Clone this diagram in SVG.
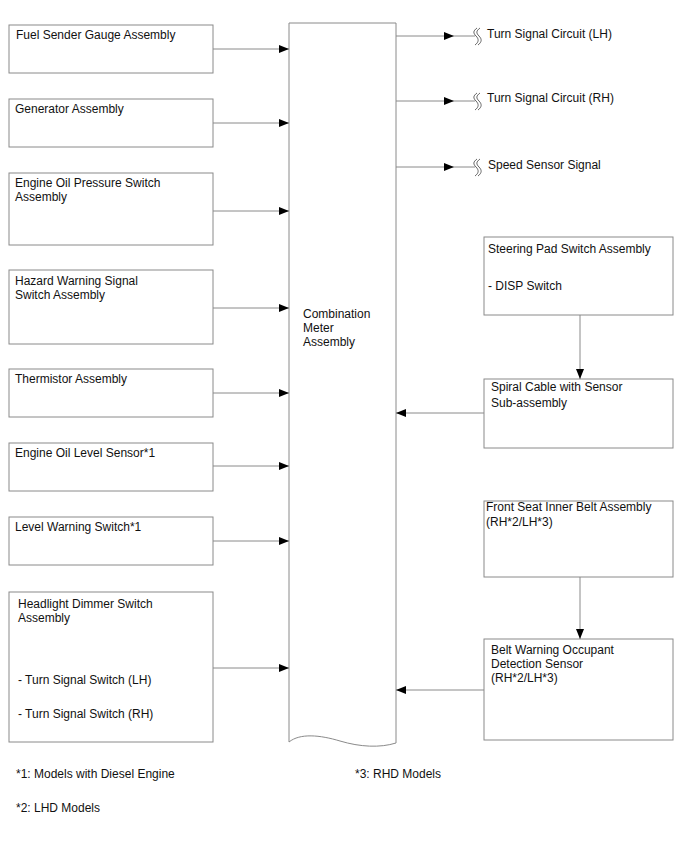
<svg xmlns="http://www.w3.org/2000/svg" width="688" height="852" viewBox="0 0 688 852">
<style>
.box{fill:#fff;stroke:#8a8a8a;stroke-width:1}
.t{font-family:"Liberation Sans",Arial,sans-serif;font-size:12px;fill:#111}
.ln{stroke:#8a8a8a;stroke-width:1;fill:none}
.brk{stroke:#555;stroke-width:0.9;fill:none}
</style>
<defs>
<marker id="arr" viewBox="0 0 10 8" refX="10" refY="4" markerWidth="10" markerHeight="8" markerUnits="userSpaceOnUse" orient="auto">
<path d="M0,0 L10,4 L0,8 Z" fill="#000"/>
</marker>
</defs>
<rect width="688" height="852" fill="#fff"/>

<g id="meter">
<path class="box" d="M289,23 H396 V743 C380,748 360,747 340,741 C320,735 300,733 289,742 Z"/>
<text class="t" x="303" y="318">Combination</text>
<text class="t" x="303" y="332">Meter</text>
<text class="t" x="303" y="346">Assembly</text>
</g>

<g id="fuel"><rect class="box" x="9" y="25" width="204" height="48"/><text class="t" x="16" y="39">Fuel Sender Gauge Assembly</text></g>
<g id="generator"><rect class="box" x="9" y="99" width="204" height="48"/><text class="t" x="15" y="113">Generator Assembly</text></g>
<g id="oilpressure"><rect class="box" x="9" y="173" width="204" height="72"/><text class="t" x="15" y="187">Engine Oil Pressure Switch</text><text class="t" x="15" y="201">Assembly</text></g>
<g id="hazard"><rect class="box" x="9" y="270" width="204" height="74"/><text class="t" x="15" y="285">Hazard Warning Signal</text><text class="t" x="15" y="299">Switch Assembly</text></g>
<g id="thermistor"><rect class="box" x="9" y="369" width="204" height="48"/><text class="t" x="15" y="383">Thermistor Assembly</text></g>
<g id="oillevel"><rect class="box" x="9" y="443" width="204" height="48"/><text class="t" x="15" y="457">Engine Oil Level Sensor*1</text></g>
<g id="levelwarning"><rect class="box" x="9" y="517" width="204" height="48"/><text class="t" x="15" y="531">Level Warning Switch*1</text></g>
<g id="headlight"><rect class="box" x="9" y="592" width="204" height="150"/><text class="t" x="18" y="608">Headlight Dimmer Switch</text><text class="t" x="18" y="622">Assembly</text><text class="t" x="18" y="684">- Turn Signal Switch (LH)</text><text class="t" x="18" y="718">- Turn Signal Switch (RH)</text></g>

<g id="steering"><rect class="box" x="484" y="237" width="189" height="78"/><text class="t" x="488" y="253">Steering Pad Switch Assembly</text><text class="t" x="488" y="290">- DISP Switch</text></g>
<g id="spiral"><rect class="box" x="484" y="379" width="189" height="69"/><text class="t" x="491" y="391">Spiral Cable with Sensor</text><text class="t" x="491" y="407">Sub-assembly</text></g>
<g id="frontseat"><rect class="box" x="484" y="501" width="189" height="76"/><text class="t" x="486" y="511">Front Seat Inner Belt Assembly</text><text class="t" x="486" y="526">(RH*2/LH*3)</text></g>
<g id="beltwarning"><rect class="box" x="484" y="639" width="189" height="101"/><text class="t" x="491" y="654">Belt Warning Occupant</text><text class="t" x="491" y="668">Detection Sensor</text><text class="t" x="491" y="682">(RH*2/LH*3)</text></g>

<g id="outputs">
<text class="t" x="487" y="38">Turn Signal Circuit (LH)</text>
<text class="t" x="487" y="102">Turn Signal Circuit (RH)</text>
<text class="t" x="488" y="169">Speed Sensor Signal</text>
<path class="brk" d="M477,28 C473,31 473,33 476,36 C479,39 479,42 475,45 M480,28 C476,31 476,33 479,36 C482,39 482,42 478,45"/>
<path class="brk" d="M477,93 C473,96 473,98 476,101 C479,104 479,107 475,110 M480,93 C476,96 476,98 479,101 C482,104 482,107 478,110"/>
<path class="brk" d="M477,159 C473,162 473,164 476,167 C479,170 479,173 475,176 M480,159 C476,162 476,164 479,167 C482,170 482,173 478,176"/>
</g>

<g id="connectors">
<line class="ln" x1="213" y1="49" x2="289" y2="49" marker-end="url(#arr)"/>
<line class="ln" x1="213" y1="123" x2="289" y2="123" marker-end="url(#arr)"/>
<line class="ln" x1="213" y1="211" x2="289" y2="211" marker-end="url(#arr)"/>
<line class="ln" x1="213" y1="308" x2="289" y2="308" marker-end="url(#arr)"/>
<line class="ln" x1="213" y1="393" x2="289" y2="393" marker-end="url(#arr)"/>
<line class="ln" x1="213" y1="466" x2="289" y2="466" marker-end="url(#arr)"/>
<line class="ln" x1="213" y1="541" x2="289" y2="541" marker-end="url(#arr)"/>
<line class="ln" x1="213" y1="668" x2="289" y2="668" marker-end="url(#arr)"/>
<line class="ln" x1="396" y1="36" x2="454" y2="36" marker-end="url(#arr)"/>
<line class="ln" x1="454" y1="36" x2="475" y2="36"/>
<line class="ln" x1="396" y1="101" x2="454" y2="101" marker-end="url(#arr)"/>
<line class="ln" x1="454" y1="101" x2="475" y2="101"/>
<line class="ln" x1="396" y1="167" x2="454" y2="167" marker-end="url(#arr)"/>
<line class="ln" x1="454" y1="167" x2="475" y2="167"/>
<line class="ln" x1="580" y1="315" x2="580" y2="379" marker-end="url(#arr)"/>
<line class="ln" x1="484" y1="413" x2="396" y2="413" marker-end="url(#arr)"/>
<line class="ln" x1="580" y1="577" x2="580" y2="639" marker-end="url(#arr)"/>
<line class="ln" x1="484" y1="690" x2="396" y2="690" marker-end="url(#arr)"/>
</g>

<g id="notes">
<text class="t" x="16" y="778">*1: Models with Diesel Engine</text>
<text class="t" x="355" y="778">*3: RHD Models</text>
<text class="t" x="16" y="812">*2: LHD Models</text>
</g>
</svg>
